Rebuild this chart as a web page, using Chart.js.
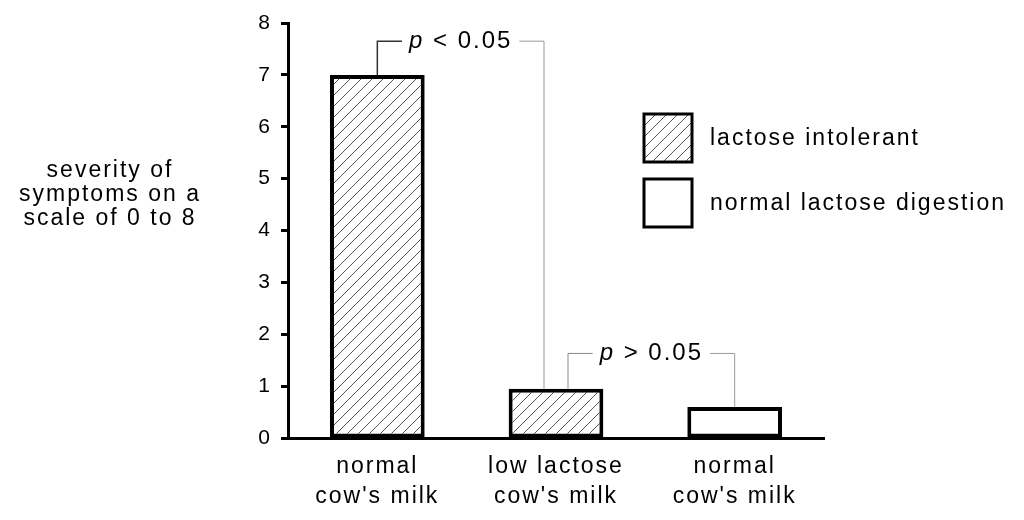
<!DOCTYPE html>
<html>
<head>
<meta charset="utf-8">
<title>Symptom severity</title>
<script src="https://cdn.jsdelivr.net/npm/chart.js@4.4.1/dist/chart.umd.min.js"></script>
<style>
  html, body { margin: 0; padding: 0; background: #fff; }
  #wrap { width: 1024px; height: 520px; }
</style>
</head>
<body>
<div id="wrap"><canvas id="chart"></canvas></div>
<script>
const categories = [['normal', "cow's milk"], ['low lactose', "cow's milk"], ['normal', "cow's milk"]];
const intolerant = [7, 0.95, null];
const normalDigestion = [null, null, 0.6];
const seriesNames = ['lactose intolerant', 'normal lactose digestion'];
const yTitle = ['severity of', 'symptoms on a', 'scale of 0 to 8'];
const comparisons = [
  { from: 0, to: 1, level: 7.65, label: ' < 0.05' },
  { from: 1, to: 2, level: 1.63, label: ' > 0.05' }
];

const ink = '#000';
const family = "'Liberation Sans', Arial, sans-serif";

var canvas = document.getElementById('chart');
var ctx = canvas.getContext('2d');

// diagonal hatch like the printed figure
function hatch() {
  const c = document.createElement('canvas');
  c.width = c.height = 11;
  const g = c.getContext('2d');
  g.fillStyle = '#fff';
  g.fillRect(0, 0, 11, 11);
  g.strokeStyle = '#555';
  g.lineWidth = 1;
  g.beginPath();
  g.moveTo(0, 11); g.lineTo(11, 0);
  g.moveTo(-1, 1); g.lineTo(1, -1);
  g.moveTo(10, 12); g.lineTo(12, 10);
  g.stroke();
  return ctx.createPattern(c, 'repeat');
}

function barValue(i) {
  return intolerant[i] != null ? intolerant[i] : normalDigestion[i];
}

const spacing = {
  id: 'spacing',
  beforeUpdate(chart) { chart.ctx.letterSpacing = '2px'; },
  beforeDraw(chart) { chart.ctx.letterSpacing = '2px'; }
};

const legShift = [[0, -12], [12, 0]];
const legColor = [['#333', '#999'], ['#888', '#999']];

const extras = {
  id: 'extras',
  afterDraw(chart) {
    const c = chart.ctx;
    const x = chart.scales.x, y = chart.scales.y;
    c.save();
    c.letterSpacing = '2px';
    c.fillStyle = ink;
    c.font = '23px ' + family;
    c.textAlign = 'center';
    c.textBaseline = 'middle';
    yTitle.forEach((line, i) => c.fillText(line, 110, 171 + i * 24));

    // legend
    chart.data.datasets.forEach((ds, i) => {
      const bx = 644, by = 114 + i * 65;
      c.fillStyle = ds.backgroundColor;
      c.fillRect(bx, by, 48, 48);
      c.lineWidth = 3;
      c.strokeStyle = ink;
      c.strokeRect(bx, by, 48, 48);
      c.fillStyle = ink;
      c.textAlign = 'left';
      c.fillText(ds.label, 710, by + 25);
    });

    // significance brackets
    comparisons.forEach((cmp, k) => {
      const x1 = x.getPixelForValue(cmp.from) + legShift[k][0];
      const x2 = x.getPixelForValue(cmp.to) + legShift[k][1];
      const yTop = y.getPixelForValue(cmp.level);
      const y1 = y.getPixelForValue(barValue(cmp.from));
      const y2 = y.getPixelForValue(barValue(cmp.to));
      c.font = 'italic 24px ' + family;
      const wP = c.measureText('p').width;
      c.font = '24px ' + family;
      const wR = c.measureText(cmp.label).width;
      const total = wP + wR;
      const tx = (x1 + x2) / 2 - total / 2;
      const gap = 7;

      c.lineWidth = k === 0 ? 1.5 : 1;
      c.strokeStyle = legColor[k][0];
      c.beginPath();
      c.moveTo(x1, y1);
      c.lineTo(x1, yTop);
      c.lineTo(tx - gap, yTop);
      c.stroke();

      c.lineWidth = 1;
      c.strokeStyle = legColor[k][1];
      c.beginPath();
      c.moveTo(tx + total + gap, yTop);
      c.lineTo(x2, yTop);
      c.lineTo(x2, y2);
      c.stroke();

      c.fillStyle = ink;
      c.textAlign = 'left';
      c.font = 'italic 24px ' + family;
      c.fillText('p', tx, yTop);
      c.font = '24px ' + family;
      c.fillText(cmp.label, tx + wP, yTop);
    });
    c.restore();
  }
};

var myChart = new Chart(ctx, {
  type: 'bar',
  data: {
    labels: categories,
    datasets: [{
      label: seriesNames[0],
      data: intolerant,
      backgroundColor: hatch(),
      borderColor: ink,
      borderWidth: 4,
      borderSkipped: false
    }, {
      label: seriesNames[1],
      data: normalDigestion,
      backgroundColor: '#fff',
      borderColor: ink,
      borderWidth: 4,
      borderSkipped: false
    }]
  },
  options: {
    responsive: true,
    maintainAspectRatio: false,
    animation: false,
    layout: { padding: { top: 23, right: 200, bottom: 0, left: 0 } },
    datasets: { bar: { barPercentage: 0.53, categoryPercentage: 1 } },
    plugins: {
      legend: { display: false },
      tooltip: { enabled: false }
    },
    scales: {
      x: {
        stacked: true,
        grid: { drawOnChartArea: false, drawTicks: false },
        border: { display: true, color: ink, width: 3 },
        ticks: {
          color: ink,
          padding: 14,
          maxRotation: 0,
          font: { family: family, size: 23, lineHeight: 1.3 }
        },
        afterFit: s => { s.height = 82; }
      },
      y: {
        min: 0,
        max: 8,
        grid: { drawOnChartArea: false, drawTicks: true, tickLength: 7, tickWidth: 3, tickColor: ink },
        border: { display: true, color: ink, width: 3 },
        ticks: {
          stepSize: 1,
          color: ink,
          padding: 9,
          font: { family: family, size: 21 }
        },
        afterFit: s => { s.width = 288; }
      }
    }
  },
  plugins: [spacing, extras]
});
</script>
</body>
</html>
